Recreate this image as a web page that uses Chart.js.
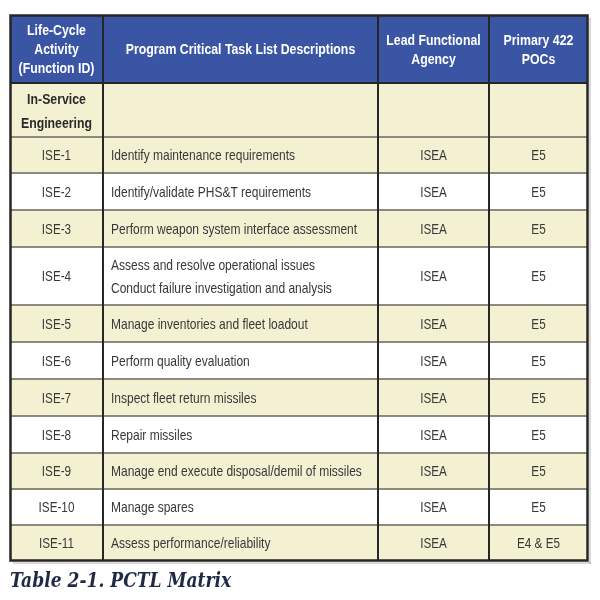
<!DOCTYPE html>
<html>
<head>
<meta charset="utf-8">
<script src="https://cdn.jsdelivr.net/npm/chart.js@4/dist/chart.umd.min.js"></script>
<style>
html,body{margin:0;padding:0;background:#fff;}
#wrap{width:600px;height:600px;}
</style>
</head>
<body>
<div id="wrap"><canvas id="c" width="600" height="600"></canvas></div>
<script>
// ---- data ----
const headers = [
  ["Life-Cycle", "Activity", "(Function ID)"],
  ["Program Critical Task List Descriptions"],
  ["Lead Functional", "Agency"],
  ["Primary 422", "POCs"]
];
const sectionLabel = ["In-Service", "Engineering"];
const functionIds = ["ISE-1","ISE-2","ISE-3","ISE-4","ISE-5","ISE-6","ISE-7","ISE-8","ISE-9","ISE-10","ISE-11"];
const descriptions = [
  ["Identify maintenance requirements"],
  ["Identify/validate PHS&T requirements"],
  ["Perform weapon system interface assessment"],
  ["Assess and resolve operational issues", "Conduct failure investigation and analysis"],
  ["Manage inventories and fleet loadout"],
  ["Perform quality evaluation"],
  ["Inspect fleet return missiles"],
  ["Repair missiles"],
  ["Manage end execute disposal/demil of missiles"],
  ["Manage spares"],
  ["Assess performance/reliability"]
];
const agencies = ["ISEA","ISEA","ISEA","ISEA","ISEA","ISEA","ISEA","ISEA","ISEA","ISEA","ISEA"];
const pocs = ["E5","E5","E5","E5","E5","E5","E5","E5","E5","E5","E4 & E5"];
const caption = "Table 2-1. PCTL Matrix";

// ---- layout (scale units) ----
const colEdges = [0, 93, 368, 479, 578];
const rowEdges = [0, 68, 122, 158, 195, 232, 290, 327, 364, 401, 438, 474, 510, 546];

const BLUE = "#3a55a4", CREAM = "#f4f1d3", WHITE = "#ffffff";
const DARK = "#262626", GRAY = "#8c8a7c", TXT = "#383838";
const SANS = '"Liberation Sans", Arial, sans-serif';

function fillScaled(ctx, text, x, y, align, sx) {
  const w = ctx.measureText(text).width * sx;
  let x0 = x;
  if (align === "center") x0 = x - w / 2;
  else if (align === "right") x0 = x - w;
  ctx.save();
  ctx.textAlign = "left";
  ctx.translate(x0, y);
  ctx.scale(sx, 1);
  ctx.fillText(text, 0, 0);
  ctx.restore();
}

const tablePlugin = {
  id: 'tablePlugin',
  beforeDatasetsDraw(chart) {
    const ctx = chart.ctx, xs = chart.scales.x, ys = chart.scales.y;
    const X = v => Math.round(xs.getPixelForValue(v));
    const Y = v => Math.round(ys.getPixelForValue(v));
    const nRows = rowEdges.length - 1;
    ctx.save();
    // shadow
    ctx.fillStyle = "rgba(0,0,0,0.15)";
    ctx.fillRect(X(colEdges[4]) + 1, Y(0) + 3, 2, Y(rowEdges[nRows]) - Y(0));
    ctx.fillRect(X(0) + 3, Y(rowEdges[nRows]) + 1, X(colEdges[4]) - X(0), 2);
    // fills
    for (let r = 0; r < nRows; r++) {
      let fill;
      if (r === 0) fill = BLUE;
      else if (r === 1) fill = CREAM;
      else fill = ((r - 2) % 2 === 0) ? CREAM : WHITE;
      ctx.fillStyle = fill;
      ctx.fillRect(X(0), Y(rowEdges[r]), X(colEdges[4]) - X(0), Y(rowEdges[r + 1]) - Y(rowEdges[r]));
    }
    // horizontal lines
    for (let r = 2; r < nRows; r++) {
      ctx.fillStyle = GRAY;
      ctx.fillRect(X(0), Y(rowEdges[r]) - 1, X(colEdges[4]) - X(0), 2);
    }
    ctx.fillStyle = DARK;
    ctx.fillRect(X(0), Y(rowEdges[1]) - 1, X(colEdges[4]) - X(0), 2);
    // vertical lines
    for (let c = 1; c < colEdges.length - 1; c++) {
      ctx.fillRect(X(colEdges[c]) - 1, Y(0), 2, Y(rowEdges[nRows]) - Y(0));
    }
    // outer border
    ctx.strokeStyle = DARK;
    ctx.lineWidth = 2.5;
    ctx.strokeRect(X(0) + 0.5, Y(0) + 0.5, X(colEdges[4]) - X(0) - 1, Y(rowEdges[nRows]) - Y(0) - 1);

    // text helpers
    ctx.textBaseline = "middle";
    const drawLines = (lines, c, r, align, font, color, lh, sx, dy) => {
      ctx.font = font; ctx.fillStyle = color;
      const cy = (ys.getPixelForValue(rowEdges[r]) + ys.getPixelForValue(rowEdges[r + 1])) / 2;
      let x;
      if (align === "center") x = (xs.getPixelForValue(colEdges[c]) + xs.getPixelForValue(colEdges[c + 1])) / 2;
      else x = xs.getPixelForValue(colEdges[c]) + 8;
      const n = lines.length;
      lines.forEach((t, i) => fillScaled(ctx, t, x, cy + (i - (n - 1) / 2) * lh + dy, align, sx));
    };
    headers.forEach((h, c) => drawLines(h, c, 0, "center", "bold 15px " + SANS, "#ffffff", 19, 0.82, 1));
    drawLines(sectionLabel, 0, 1, "center", "bold 15px " + SANS, "#2a2a2a", 24, 0.82, 2);
    for (let i = 0; i < functionIds.length; i++) {
      const r = i + 2;
      drawLines([functionIds[i]], 0, r, "center", "15px " + SANS, TXT, 23, 0.78, 1);
      drawLines(descriptions[i], 1, r, "left", "15px " + SANS, TXT, 23, 0.8, 1);
      drawLines([agencies[i]], 2, r, "center", "15px " + SANS, TXT, 23, 0.78, 1);
      drawLines([pocs[i]], 3, r, "center", "15px " + SANS, TXT, 23, 0.78, 1);
    }
    // caption
    ctx.textBaseline = "alphabetic";
    ctx.font = 'italic bold 21px "DejaVu Serif", "Liberation Serif", serif';
    ctx.fillStyle = "#1f2a44";
    fillScaled(ctx, caption, X(0), Y(rowEdges[nRows]) + 26, "left", 0.815);
    ctx.restore();
  }
};

new Chart(document.getElementById('c'), {
  type: 'scatter',
  data: { datasets: [{ data: [], pointRadius: 0 }] },
  options: {
    responsive: false,
    animation: false,
    events: [],
    layout: { padding: { left: 10, top: 15, right: 12, bottom: 39 } },
    scales: {
      x: { type: 'linear', min: 0, max: 578, display: false },
      y: { type: 'linear', min: 0, max: 546, reverse: true, display: false }
    },
    plugins: { legend: { display: false }, tooltip: { enabled: false }, title: { display: false } }
  },
  plugins: [tablePlugin]
});
</script>
</body>
</html>
